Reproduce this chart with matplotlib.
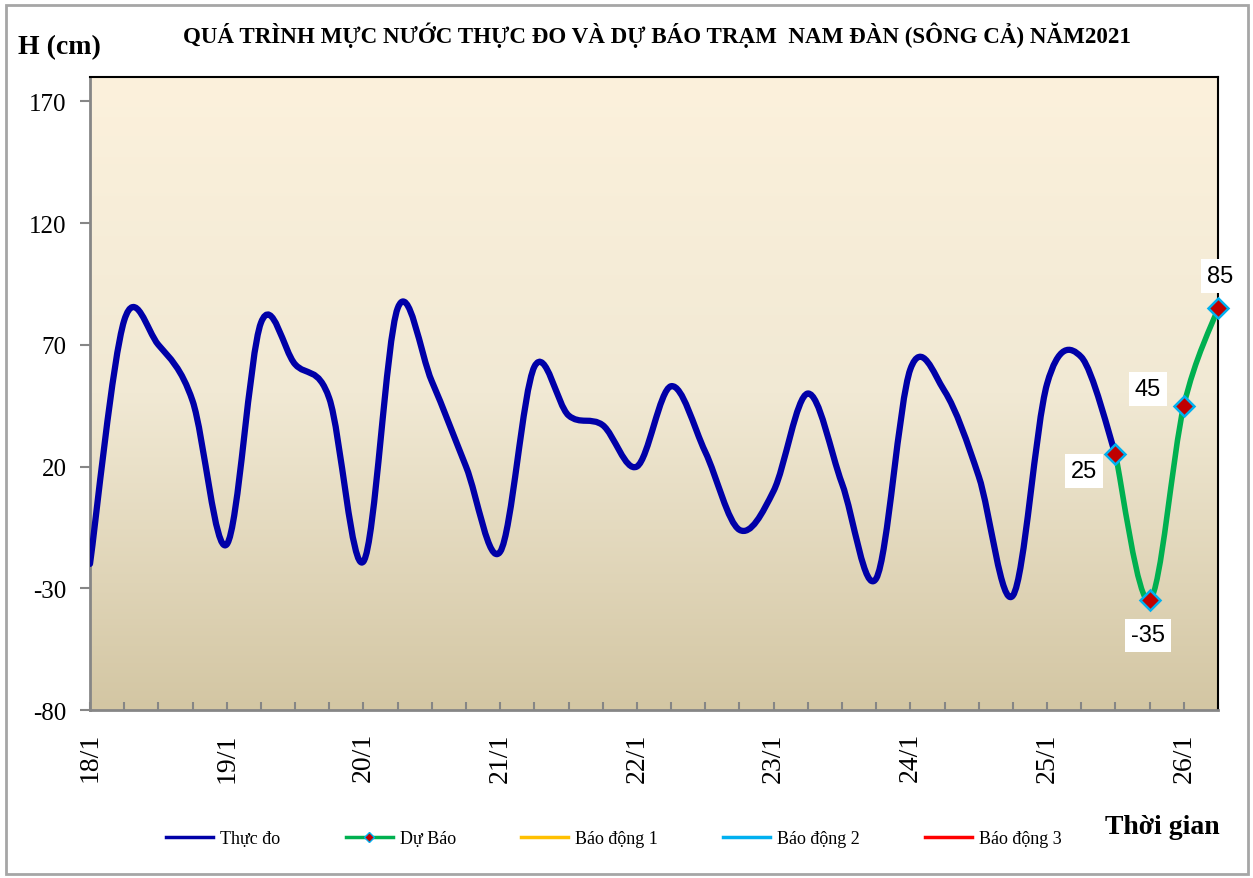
import numpy as np
import matplotlib
matplotlib.use('Agg')
from matplotlib import pyplot as plt
from matplotlib.path import Path
from matplotlib.patches import PathPatch, Rectangle
from matplotlib.lines import Line2D

# 6-hourly steps starting 18/1 00h
day_labels = ['18/1', '19/1', '20/1', '21/1', '22/1', '23/1', '24/1', '25/1', '26/1']
thuc_do = [-20, 80, 70, 47, -12, 79, 62, 48, -19, 85, 55, 20, -15, 61, 41, 37, 20,
           53, 26, -6, 10, 50, 13, -26, 60, 51, 16, -33, 54, 65, 25]
du_bao = [25, -35, 45, 85]
du_bao_start = 30
legend_names = ['Thực đo', 'Dự Báo', 'Báo động 1', 'Báo động 2', 'Báo động 3']

W, H = 1253, 879
plt.rcParams['font.family'] = ['Liberation Serif', 'DejaVu Serif']
plt.rcParams['axes.unicode_minus'] = False


def smooth_path(xs, ys):
    # bezier through the points, like a "smoothed line" in a spreadsheet
    pts = np.column_stack([xs, ys]).astype(float)
    verts = [pts[0]]
    codes = [Path.MOVETO]
    n = len(pts)
    for i in range(n - 1):
        p0 = pts[i - 1] if i > 0 else pts[i]
        p1 = pts[i]
        p2 = pts[i + 1]
        p3 = pts[i + 2] if i + 2 < n else pts[i + 1]
        verts += [p1 + (p2 - p0) / 6, p2 - (p3 - p1) / 6, p2]
        codes += [Path.CURVE4] * 3
    return Path(verts, codes)


fig = plt.figure(figsize=(W / 100, H / 100), dpi=100)
fig.patches.append(Rectangle((6 / W, 4 / H), 1242 / W, 869 / H, transform=fig.transFigure,
                             fill=False, edgecolor='#a6a6a6', lw=2))

ax = fig.add_axes([90 / W, 1 - 711 / H, (1218 - 90) / W, (711 - 78) / H])

# background gradient
top = np.array([252, 241, 220]) / 255
mid = np.array([241, 233, 212]) / 255
bot = np.array([211, 198, 163]) / 255
t = np.linspace(0, 1, 256)[:, None]
grad = np.where(t < 0.5, top + (mid - top) * (t / 0.5), mid + (bot - mid) * ((t - 0.5) / 0.5))
ax.imshow(grad[:, None, :], extent=[0, 1, 0, 1], transform=ax.transAxes, aspect='auto', zorder=0)

x_obs = np.arange(len(thuc_do))
x_fc = np.arange(du_bao_start, du_bao_start + len(du_bao))

ax.add_patch(PathPatch(smooth_path(x_obs, thuc_do), fill=False, edgecolor='#0000a8', lw=4.5,
                       capstyle='round', joinstyle='round', zorder=3))
ax.add_patch(PathPatch(smooth_path(x_fc, du_bao), fill=False, edgecolor='#00b050', lw=4,
                       capstyle='round', joinstyle='round', zorder=4, clip_on=False))
ax.plot(x_fc, du_bao, linestyle='none', marker='D', markersize=10, markerfacecolor='#c00000',
        markeredgecolor='#00b0f0', markeredgewidth=1.8, zorder=5, clip_on=False)

offsets = [(-31, -17), (-2, -35), (-36, 17), (2, 32)]
for xi, yi, off in zip(x_fc, du_bao, offsets):
    ax.annotate(str(yi), (xi, yi), xytext=off, textcoords='offset pixels', ha='center', va='center',
                fontsize=17, family='Liberation Sans', zorder=6, annotation_clip=False,
                bbox=dict(boxstyle='square,pad=0.25', facecolor='white', edgecolor='none'))

ax.set_xlim(0, 33)
ax.set_ylim(-80, 180)
ax.set_yticks([-80, -30, 20, 70, 120, 170])
ax.set_xticks(np.arange(0, 33, 4))
ax.set_xticklabels(day_labels, rotation=90, fontsize=20)
ax.set_xticks(np.arange(0, 34), minor=True)
ax.tick_params(axis='x', which='both', direction='in', length=6, width=1.5, color='#868686', pad=16)
ax.tick_params(axis='y', direction='out', length=7, width=1.5, color='#868686', pad=10, labelsize=18)
for s in ['top', 'right']:
    ax.spines[s].set_color('black')
    ax.spines[s].set_linewidth(1.5)
for s in ['left', 'bottom']:
    ax.spines[s].set_color('#868686')
    ax.spines[s].set_linewidth(2)

fig.text(657 / W, 1 - 35 / H, 'QUÁ TRÌNH MỰC NƯỚC THỰC ĐO VÀ DỰ BÁO TRẠM  NAM ĐÀN (SÔNG CẢ) NĂM2021',
         ha='center', va='center', fontsize=16.6, fontweight='bold')
fig.text(18 / W, 1 - 48 / H, 'H (cm)', ha='left', va='center', fontsize=20, fontweight='bold')
fig.text(1220 / W, 1 - 828 / H, 'Thời gian', ha='right', va='center', fontsize=20, fontweight='bold')

handles = [
    Line2D([], [], color='#0000a8', lw=2.5),
    Line2D([], [], color='#00b050', lw=2.5, marker='D', markersize=5,
           markerfacecolor='#c00000', markeredgecolor='#00b0f0'),
    Line2D([], [], color='#ffc000', lw=2.5),
    Line2D([], [], color='#00b0f0', lw=2.5),
    Line2D([], [], color='#ff0000', lw=2.5),
]
fig.legend(handles, legend_names, loc='center', bbox_to_anchor=(614 / W, 1 - 840 / H), ncol=5,
           frameon=False, fontsize=13, handlelength=2.6, columnspacing=3.6, handletextpad=0.4)

fig.savefig('out.png', dpi=100)
